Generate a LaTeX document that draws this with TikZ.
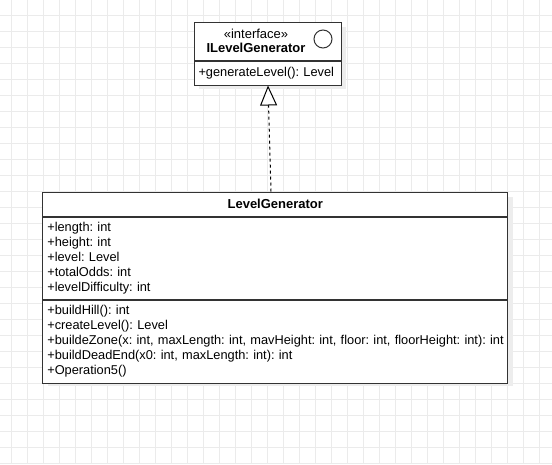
\documentclass[tikz,border=0pt]{standalone}
\usepackage{fontspec}
\setmainfont{Liberation Sans}
\frenchspacing
\usetikzlibrary{positioning,arrows.meta}
\definecolor{gridline}{HTML}{EBEBEB}
\definecolor{edge}{HTML}{333333}
\definecolor{shade}{HTML}{EDEDED}
\tikzset{
  part/.style={rectangle,draw=edge,fill=white,line width=1pt,inner sep=0pt,
    font=\fontsize{12.8}{15}\selectfont},
  members/.style={part,align=left,inner xsep=4.5pt},
  shadowbox/.style={fill=shade,draw=none},
  realize/.style={draw=black,line width=1pt,dash pattern=on 3pt off 3pt,
    -{Triangle[open,fill=white,length=20pt,width=17pt,line width=1pt]}},
}
\begin{document}
\begin{tikzpicture}[x=1pt,y=-1pt]
  \useasboundingbox (0,0) rectangle (552,464);
  \fill[white] (0,0) rectangle (552,464);
  % background grid
  \foreach \x in {11,27,...,551} \draw[gridline,line width=1pt] (\x,0) -- (\x,464);
  \foreach \y in {15,31,...,463} \draw[gridline,line width=1pt] (0,\y) -- (552,\y);
  % shadows
  \fill[shadowbox] (199,27) rectangle (346,89);
  \fill[shadowbox] (48,197) rectangle (513,386);
  % interface
  \node[part,minimum width=147pt,minimum height=38pt] (ilgHead) at (267.5,41) {};
  \node[font=\fontsize{13}{14}\selectfont,align=center,inner sep=0pt] (ilgTitle) at (256,41)
    {«interface»\\\textbf{ILevelGenerator}};
  \draw[edge,line width=1pt] (323,39) circle (9);
  \node[members,below=0pt of ilgHead,minimum height=24pt,text width=138pt] (ilgOps)
    {\mbox{+generateLevel(): Level}};
  % class
  \node[part,minimum width=465pt,minimum height=24pt,font=\fontsize{13}{15}\selectfont] (lgHead) at (275.3,204)
    {\textbf{LevelGenerator}};
  \node[members,below=0pt of lgHead,minimum height=82pt,text width=456pt] (lgAttr)
    {+length: int\\+height: int\\+level: Level\\+totalOdds: int\\+levelDifficulty: int};
  \node[members,below=0pt of lgAttr,minimum height=83pt,text width=456pt] (lgOps)
    {+buildHill(): int\\+createLevel(): Level\\
     \mbox{+buildeZone(x: int, maxLength: int, mavHeight: int, floor: int, floorHeight: int): int}\\
     +buildDeadEnd(x0: int, maxLength: int): int\\+Operation5()};
  % realization
  \coordinate (tailX) at (271,0);
  \coordinate (tipX) at (268,0);
  \coordinate (lgTail) at (tailX |- lgHead.north);
  \coordinate (ilgTip) at (tipX |- ilgOps.south);
  \draw[realize] (lgTail) -- (ilgTip);
\end{tikzpicture}
\end{document}
